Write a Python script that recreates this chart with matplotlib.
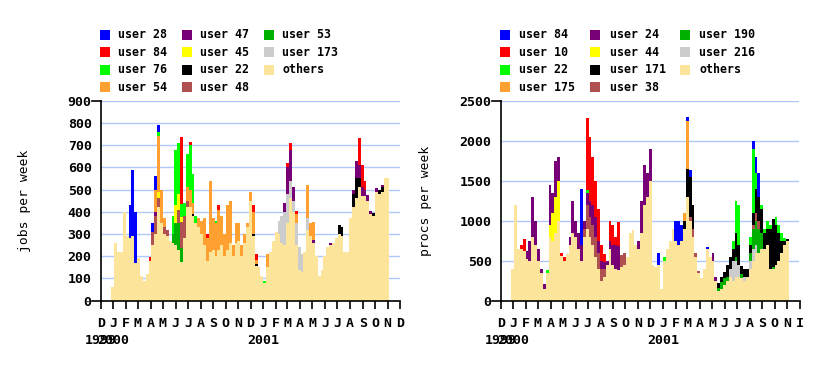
import numpy as np
import pandas as pd
import matplotlib
matplotlib.use("Agg")
import matplotlib.pyplot as plt
import matplotlib.dates as mdates
from matplotlib.patches import Rectangle
from matplotlib.ticker import FuncFormatter

plt.rcParams["font.family"] = "DejaVu Sans Mono"

# weekly samples, first one starting end of Dec 1999
weeks = pd.date_range("1999-12-27", periods=97, freq="7D")

colors = ["#0000ff", "#ff0000", "#00ff00", "#ffa030", "#770077",
          "#ffff00", "#000000", "#b05050", "#00b000", "#cccccc"]
others_color = "#fde49b"

# ---- jobs per week (left) ----
jobs_others = [60, 260, 220, 220, 400, 290, 280, 290, 170, 190,
               110, 90, 120, 180, 250, 300, 420, 350, 300, 290,
               270, 260, 250, 230, 175, 280, 420, 420, 380, 350,
               330, 300, 250, 180, 220, 230, 200, 230, 250, 200,
               230, 260, 200, 260, 270, 200, 260, 330, 450, 290,
               155, 150, 110, 80, 150, 220, 270, 310, 300, 260,
               250, 350, 460, 400, 250, 140, 130, 220, 320, 290,
               260, 200, 110, 140, 200, 240, 250, 260, 280, 300,
               290, 220, 220, 370, 420, 460, 510, 470, 470, 450,
               390, 380, 490, 480, 490, 550, 550]
jobs_names = ["user 28", "user 84", "user 76", "user 54", "user 47",
              "user 45", "user 22", "user 48", "user 53", "user 173"]
jobs_users = {
    "user 28": {6: 150, 7: 300, 8: 230, 14: 40, 15: 60, 16: 30},
    "user 84": {13: 15, 24: 300, 27: 15, 33: 20, 37: 20, 49: 30, 50: 25,
                61: 20, 62: 30, 64: 15, 86: 120, 87: 100, 88: 40},
    "user 76": {16: 20, 21: 80, 22: 250, 23: 230, 24: 60, 25: 60, 26: 150,
                27: 200, 28: 130, 29: 30, 36: 10, 53: 10},
    "user 54": {15: 100, 16: 250, 17: 150, 18: 40, 26: 60, 27: 80, 28: 50,
                30: 40, 31: 60, 32: 120, 33: 100, 34: 320, 35: 140, 36: 150,
                37: 180, 38: 130, 39: 100, 40: 200, 41: 190, 42: 50, 43: 90,
                44: 80, 45: 50, 46: 40, 47: 20, 48: 40, 49: 100, 50: 20,
                54: 60, 64: 40, 68: 150, 69: 60, 70: 80},
    "user 47": {15: 20, 60: 40, 61: 120, 62: 140, 63: 60, 70: 15, 76: 10,
                84: 20, 85: 80, 86: 60, 87: 40, 88: 30, 89: 25, 90: 15,
                92: 15, 94: 10},
    "user 45": {16: 30, 22: 80, 23: 70, 24: 20},
    "user 22": {28: 10, 49: 10, 50: 8, 79: 40, 80: 40, 84: 60, 85: 90,
                86: 40, 91: 15, 93: 20, 94: 20},
    "user 48": {14: 60, 15: 80, 16: 40, 18: 30, 19: 30, 23: 60, 24: 120,
                25: 100, 26: 30},
    "user 53": {21: 40, 22: 100, 23: 120, 24: 60},
    "user 173": {58: 60, 59: 120, 60: 150, 61: 130, 62: 80, 63: 50,
                 64: 100, 65: 100, 66: 80, 68: 50},
}

# ---- procs per week (right) ----
procs_others = [400, 1200, 640, 640, 620, 520, 500, 800, 700, 500,
                350, 150, 350, 800, 750, 850, 1000, 560, 500, 580,
                700, 850, 800, 650, 500, 800, 900, 800, 700, 550,
                400, 250, 300, 450, 650, 450, 400, 380, 420, 450,
                550, 850, 880, 700, 650, 850, 1200, 1300, 1500, 450,
                420, 450, 150, 500, 650, 750, 900, 750, 700, 750,
                900, 1300, 1000, 800, 550, 350, 280, 400, 650, 550,
                500, 250, 120, 150, 200, 250, 300, 250, 300, 300,
                280, 250, 300, 400, 500, 600, 600, 650, 650, 700,
                400, 400, 450, 500, 600, 700, 750]
procs_names = ["user 84", "user 10", "user 22", "user 175", "user 24",
               "user 44", "user 171", "user 38", "user 190", "user 216"]
procs_users = {
    "user 84": {24: 700, 51: 150, 57: 250, 58: 300, 59: 200, 61: 50,
                62: 80, 68: 20, 84: 100, 85: 200, 86: 300},
    "user 10": {3: 50, 4: 150, 17: 40, 18: 50, 26: 900, 27: 800, 28: 600,
                29: 450, 30: 400, 31: 200, 32: 100, 34: 250, 35: 250,
                36: 100, 37: 300},
    "user 22": {12: 30, 26: 30, 53: 50, 77: 100, 78: 400, 79: 500, 83: 100,
                84: 800, 85: 200, 87: 50, 88: 50, 89: 100, 90: 50, 92: 100,
                93: 100, 94: 100, 95: 30},
    "user 175": {60: 100, 61: 600},
    "user 24": {5: 100, 6: 250, 7: 500, 8: 300, 9: 150, 10: 50, 11: 60,
                13: 500, 14: 250, 15: 450, 16: 300, 20: 100, 21: 400,
                22: 200, 23: 200, 24: 200, 25: 100, 26: 150, 27: 200,
                28: 250, 29: 250, 30: 150, 31: 100, 32: 80, 33: 50, 34: 100,
                35: 250, 36: 300, 37: 300, 44: 100, 45: 400, 46: 500,
                47: 300, 48: 400, 70: 100, 71: 50},
    "user 44": {13: 150, 14: 350, 15: 450, 16: 500},
    "user 171": {60: 100, 61: 350, 62: 500, 63: 300, 72: 60, 73: 60,
                 74: 80, 75: 150, 76: 150, 77: 150, 78: 300, 79: 250,
                 80: 100, 81: 100, 82: 100, 83: 100, 84: 150, 85: 300,
                 86: 300, 87: 300, 88: 200, 89: 200, 90: 500, 91: 600,
                 92: 500, 93: 350, 94: 150, 95: 50, 96: 20},
    "user 38": {25: 100, 26: 300, 27: 250, 28: 250, 29: 250, 30: 200,
                31: 150, 32: 100, 38: 150, 39: 150, 62: 50, 63: 100,
                64: 50, 65: 20, 84: 50, 85: 100, 86: 100},
    "user 190": {72: 40, 73: 80, 74: 80, 75: 50, 78: 50, 80: 50, 83: 100,
                 84: 250, 85: 300, 86: 300, 87: 200, 91: 20},
    "user 216": {76: 100, 77: 250, 78: 200, 79: 150, 81: 50, 83: 100,
                 84: 150, 85: 100},
}

W, H = 828, 366
fig = plt.figure(figsize=(W / 100, H / 100), dpi=100)


def px_axes(x0, x1, y_top, y_bot):
    return fig.add_axes([x0 / W, 1 - y_bot / H, (x1 - x0) / W, (y_bot - y_top) / H])


def draw(ax, others, names, users, ymax, ystep, ylabel, ylabel_x, last_label):
    x = list(weeks) + [weeks[-1] + pd.Timedelta(days=7)]
    base = np.array(others + [others[-1]], dtype=float)
    ax.fill_between(x, 0, base, step="post", color=others_color, lw=0)
    for k in range(len(names) - 1, -1, -1):
        vals = np.zeros(len(weeks))
        for i, v in users[names[k]].items():
            vals[i] = v
        top = base + np.append(vals, vals[-1])
        ax.fill_between(x, base, top, step="post", color=colors[k], lw=0)
        base = top

    ax.set_xlim(pd.Timestamp("1999-12-01"), pd.Timestamp("2001-12-01"))
    ax.set_ylim(0, ymax)
    ax.set_yticks(np.arange(0, ymax + 1, ystep))
    ax.grid(axis="y", color="#b0c8ff", lw=1)
    ax.set_axisbelow(True)
    for s in ["top", "right"]:
        ax.spines[s].set_visible(False)
    ax.spines["left"].set_linewidth(1.2)
    ax.spines["bottom"].set_linewidth(1.2)

    ax.xaxis.set_major_locator(mdates.MonthLocator())
    end = mdates.date2num(pd.Timestamp("2001-12-01"))

    def fmt(v, p):
        if abs(v - end) < 1:
            return last_label
        return mdates.num2date(v).strftime("%b")[0]

    ax.xaxis.set_major_formatter(FuncFormatter(fmt))
    ax.tick_params(axis="x", length=5.5, width=1.2, pad=6, labelsize=9.5)
    ax.tick_params(axis="y", length=0, pad=6.5, labelsize=9.5)
    for lab in ax.get_xticklabels() + ax.get_yticklabels():
        lab.set_fontweight("bold")

    # little stubs left of the axis at bottom and top
    for yy in (0, 1):
        ax.plot([-0.029, 0], [yy, yy], transform=ax.transAxes, color="black",
                lw=1.2, clip_on=False)

    tr = ax.get_xaxis_transform()
    for d, lab in [("1999-12-01", "1999"), ("2000-01-01", "2000"), ("2001-01-01", "2001")]:
        ax.text(pd.Timestamp(d), -0.2, lab, transform=tr, ha="center", va="center",
                fontsize=9.5, fontweight="bold")

    fig.text(ylabel_x / W, 1 - 201 / H, ylabel, rotation=90, ha="center", va="center",
             fontsize=9.4)


def legend(names, x0, dx, tx):
    labels = names + ["others"]
    cols = colors + [others_color]
    for k, name in enumerate(labels):
        col, row = k // 4, k % 4
        yc = 35 + row * 17.4
        xs = x0 + col * dx
        fig.add_artist(Rectangle((xs / W, 1 - (yc + 5) / H), 10 / W, 10 / H,
                                 transform=fig.transFigure, color=cols[k], lw=0))
        fig.text((xs + tx) / W, 1 - yc / H, name, ha="left", va="center",
                 fontsize=8.4, fontweight="bold")


ax1 = px_axes(100.7, 400, 100.7, 300.7)
draw(ax1, jobs_others, jobs_names, jobs_users, 900, 100, "jobs per week", 25, "D")
legend(jobs_names, 100, 82, 18.5)

ax2 = px_axes(500.7, 799.5, 100.7, 300.7)
draw(ax2, procs_others, procs_names, procs_users, 2500, 500, "procs per week", 426, "I")
legend(procs_names, 500, 90, 19.5)

fig.savefig("out.png", dpi=100)
